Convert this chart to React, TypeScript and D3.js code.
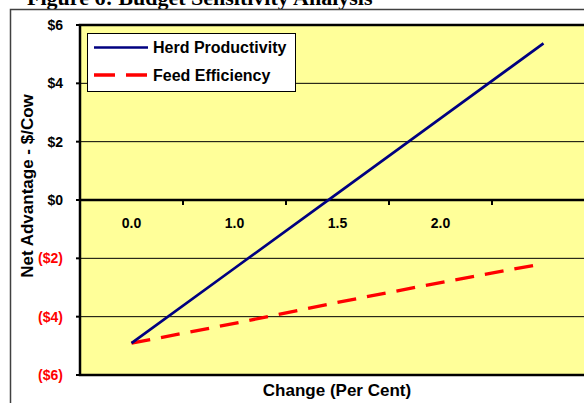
import React from "react";
import * as d3 from "d3";

const categories = ["0.0", "1.0", "1.5", "2.0", ""];
const herdProductivity = [-4.91, -2.34, 0.23, 2.8, 5.37];
const feedEfficiency = [-4.91, -4.23, -3.51, -2.83, -2.18];
const yTicks = [6, 4, 2, 0, -2, -4, -6];
const seriesNames = ["Herd Productivity", "Feed Efficiency"];
const title = "Figure 6: Budget Sensitivity Analysis";
const xTitle = "Change (Per Cent)";
const yTitle = "Net Advantage - $/Cow";

const W = 584;
const H = 403;
const plot = { left: 80, top: 25, right: 595, bottom: 375 };
const SANS = "'Liberation Sans', Arial, sans-serif";

export default function App() {
  const idx = categories.map((_, i) => i);
  const x = d3.scaleBand<number>().domain(idx).range([plot.left, plot.right]);
  const y = d3.scaleLinear().domain([-6, 6]).range([plot.bottom, plot.top]);
  const cx = (i: number) => (x(i) as number) + x.bandwidth() / 2;
  const line = d3
    .line<number>()
    .x((_, i) => cx(i))
    .y((d) => y(d));
  const fmt = (v: number) => (v >= 0 ? `$${v}` : `($${-v})`);
  const tickBounds = idx.map((i) => x(i) as number).slice(1);

  return (
    <div style={{ position: "absolute", left: 0, top: 0, width: W, height: H, overflow: "hidden", background: "#fff" }}>
      <svg width={W} height={H} style={{ display: "block" }}>
        <rect x={0} y={0} width={W} height={H} fill="#fff" />
        <text x={27} y={5} fontFamily="'Liberation Serif', 'Times New Roman', serif" fontWeight="bold" fontSize={22} fill="#000">
          {title}
        </text>
        {/* outer chart frame */}
        <rect x={10.5} y={9.5} width={W + 20} height={H + 20} fill="#fff" stroke="#404040" strokeWidth={1.5} />
        {/* plot area */}
        <rect x={plot.left} y={plot.top} width={plot.right - plot.left} height={plot.bottom - plot.top} fill="#FFFF99" />
        {yTicks.filter((v) => v !== 0 && v !== 6 && v !== -6).map((v) => (
          <line key={v} x1={plot.left} x2={plot.right} y1={y(v)} y2={y(v)} stroke="#000" strokeWidth={1} />
        ))}
        <rect x={plot.left} y={plot.top} width={plot.right - plot.left} height={plot.bottom - plot.top} fill="none" stroke="#000" strokeWidth={2.5} />
        {/* y ticks + labels */}
        {yTicks.map((v) => (
          <g key={v}>
            <line x1={plot.left - 4} x2={plot.left} y1={y(v)} y2={y(v)} stroke="#000" strokeWidth={2} />
            <text
              x={63}
              y={y(v)}
              dy="0.35em"
              textAnchor="end"
              fontFamily={SANS}
              fontWeight="bold"
              fontSize={14}
              fill={v < 0 ? "#FF0000" : "#000"}
            >
              {fmt(v)}
            </text>
          </g>
        ))}
        {/* zero axis */}
        <line x1={plot.left} x2={plot.right} y1={y(0)} y2={y(0)} stroke="#000" strokeWidth={2.5} />
        {tickBounds.map((b, i) => (
          <line key={i} x1={b} x2={b} y1={y(0)} y2={y(0) + 5} stroke="#000" strokeWidth={2} />
        ))}
        {categories.map((c, i) => (
          <text key={i} x={cx(i)} y={228} textAnchor="middle" fontFamily={SANS} fontWeight="bold" fontSize={14} fill="#000">
            {c}
          </text>
        ))}
        {/* series */}
        <path d={line(feedEfficiency) || ""} fill="none" stroke="#FF0000" strokeWidth={3.3} strokeDasharray="19,11" />
        <path d={line(herdProductivity) || ""} fill="none" stroke="#000080" strokeWidth={2.7} />
        {/* legend */}
        <rect x={87.5} y={33.5} width={208} height={58} fill="#fff" stroke="#000" strokeWidth={1} />
        <line x1={94} x2={148} y1={47.5} y2={47.5} stroke="#000080" strokeWidth={2.7} />
        <line x1={94} x2={148} y1={75} y2={75} stroke="#FF0000" strokeWidth={3.3} strokeDasharray="21,11" />
        <text x={153} y={47.5} dy="0.35em" fontFamily={SANS} fontWeight="bold" fontSize={16} fill="#000">
          {seriesNames[0]}
        </text>
        <text x={153} y={75} dy="0.35em" fontFamily={SANS} fontWeight="bold" fontSize={16} fill="#000">
          {seriesNames[1]}
        </text>
        {/* axis titles */}
        <text x={337} y={396} textAnchor="middle" fontFamily={SANS} fontWeight="bold" fontSize={17} fill="#000">
          {xTitle}
        </text>
        <text
          transform={`translate(33,186) rotate(-90)`}
          textAnchor="middle"
          fontFamily={SANS}
          fontWeight="bold"
          fontSize={17}
          fill="#000"
        >
          {yTitle}
        </text>
      </svg>
    </div>
  );
}
